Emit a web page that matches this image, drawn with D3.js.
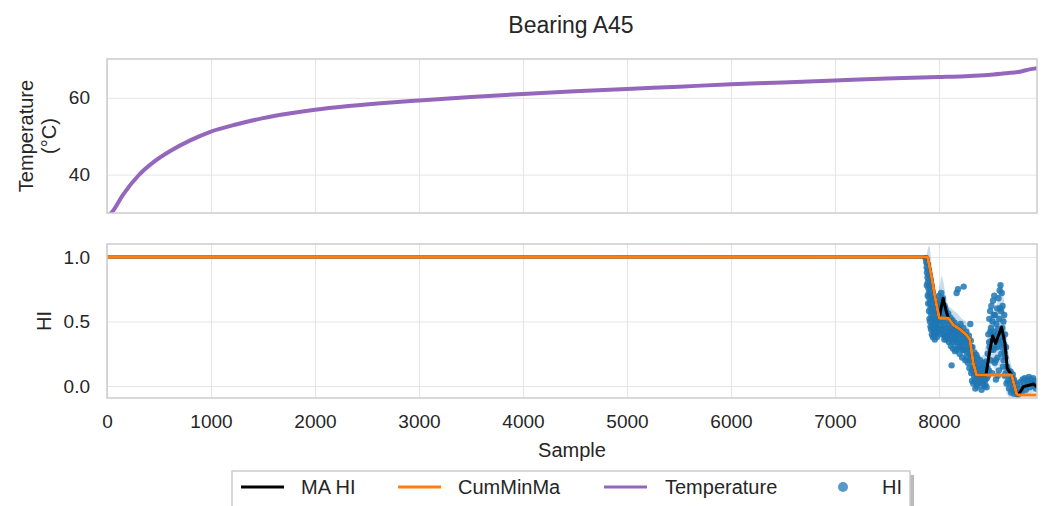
<!DOCTYPE html>
<html>
<head>
<meta charset="utf-8">
<script src="https://cdn.jsdelivr.net/npm/d3@7"></script>
<style>
  body { margin:0; background:#fff; }
  svg text { font-family: "Liberation Sans", Arial, sans-serif; fill:#262626; }
</style>
</head>
<body>
<svg id="chart" width="1048" height="506"></svg>
<script>
//x range of the samples
const sampleMax = 8943
const xTicks = [0,1000,2000,3000,4000,5000,6000,7000,8000]

//temperature (top)
const tempSample = [0,50,150,300,450,600,800,1000,1250,1500,1750,2000,2300,2600,3000,3500,4000,4500,5000,5500,6000,6500,7000,7500,8000,8300,8500,8650,8780,8870,8943]
const tempValue = [29.0,30.3,34.6,39.7,43.3,46.0,48.9,51.2,53.1,54.7,55.9,56.9,57.8,58.5,59.3,60.2,61.0,61.7,62.3,62.9,63.5,64.0,64.5,65.0,65.4,65.7,66.0,66.4,66.8,67.4,67.7]
const tempTicks = [40,60]

//moving average HI
const maSample = [0,7890,7929,7962,8003,8020,8041,8067,8090,8138,8202,8266,8298,8330,8362,8452,8490,8516,8545,8602,8635,8657,8699,8747,8760,8779,8811,8875,8907,8943]
const maValue = [1,1,0.847,0.69,0.525,0.60,0.68,0.59,0.525,0.473,0.44,0.395,0.357,0.176,0.085,0.085,0.28,0.388,0.33,0.455,0.33,0.137,0.085,-0.06,-0.07,-0.05,-0.005,0.008,0.015,-0.005]

//cumulative min of MA
const cumSample = [0,7890,7929,7962,8003,8090,8138,8202,8266,8298,8330,8362,8699,8747,8760,8943]
const cumValue = [1,1,0.847,0.69,0.525,0.525,0.473,0.44,0.395,0.357,0.176,0.085,0.085,-0.06,-0.07,-0.07]

//spread band around MA
const bandSample = [0,7880,7895,7910,7925,7945,7965,7985,8005,8025,8045,8065,8090,8120,8150,8180,8220,8260,8290,8320,8350,8390,8430,8465,8490,8515,8540,8565,8590,8610,8630,8650,8675,8710,8750,8800,8850,8900,8943]
const bandHigh = [1.005,1.01,1.07,1.09,0.98,0.86,0.74,0.70,0.77,0.86,0.80,0.70,0.62,0.60,0.58,0.56,0.52,0.50,0.44,0.30,0.20,0.22,0.24,0.36,0.52,0.60,0.54,0.66,0.80,0.78,0.62,0.40,0.22,0.12,0.05,0.06,0.08,0.07,0.05]
const bandLow = [0.995,0.99,0.90,0.75,0.62,0.50,0.42,0.38,0.40,0.44,0.46,0.40,0.36,0.33,0.30,0.28,0.24,0.20,0.14,0.03,-0.04,-0.03,-0.02,0.05,0.14,0.18,0.12,0.16,0.14,0.10,0.02,-0.06,-0.09,-0.1,-0.1,-0.08,-0.06,-0.05,-0.05]

//raw HI points [sample, value]
const hiPoints = [
  [7872,0.99],[7878,0.96],[7882,0.92],[7885,0.88],[7888,0.95],[7890,0.84],[7893,0.80],[7896,0.90],[7898,0.76],[7901,0.86],
  [7903,0.72],[7906,0.82],[7908,0.68],[7911,0.78],[7913,0.64],[7916,0.74],[7918,0.60],[7921,0.70],[7923,0.56],[7926,0.66],
  [7929,0.52],[7931,0.62],[7934,0.48],[7936,0.58],[7939,0.45],[7941,0.67],[7944,0.54],[7947,0.42],[7950,0.60],[7953,0.50],
  [7956,0.39],[7959,0.57],[7962,0.46],[7965,0.63],[7968,0.52],[7971,0.42],[7975,0.58],[7978,0.49],[7982,0.66],[7986,0.55],
  [7990,0.45],[7994,0.61],[7998,0.51],[8002,0.70],[8006,0.57],
  [7884,0.78],[7892,0.70],[7897,0.64],[7904,0.58],[7909,0.52],[7914,0.50],[7919,0.46],[7924,0.44],[7927,0.77],[7932,0.40],
  [7937,0.70],[7942,0.38],[7948,0.66],[7954,0.44],[7960,0.36],[7966,0.40],[7973,0.48],[7980,0.38],[7988,0.62],[7996,0.42],
  [8010,0.47],[8014,0.64],[8018,0.54],[8022,0.72],[8026,0.44],[8030,0.60],[8034,0.50],[8038,0.68],[8042,0.40],[8046,0.56],
  [8050,0.47],[8054,0.62],[8058,0.38],[8062,0.53],[8066,0.45],[8070,0.58],[8075,0.36],[8080,0.50],[8085,0.42],[8090,0.56],
  [8095,0.34],[8100,0.48],[8105,0.40],[8110,0.53],[8115,0.31],[8120,0.45],[8122,0.16],[8126,0.38],[8130,0.51],[8135,0.29],
  [8140,0.43],[8145,0.36],[8150,0.49],[8155,0.27],[8160,0.41],[8165,0.34],[8170,0.72],[8175,0.46],[8180,0.30],[8183,0.75],
  [8188,0.39],[8193,0.44],[8198,0.25],[8203,0.37],[8208,0.48],[8213,0.31],[8218,0.40],[8223,0.22],[8228,0.35],[8233,0.45],
  [8238,0.77],[8243,0.28],[8248,0.38],[8253,0.20],[8258,0.33],[8263,0.42],[8268,0.26],[8273,0.36],[8278,0.18],[8283,0.30],
  [8288,0.39],[8293,0.14],[8298,0.25],
  [8012,0.52],[8020,0.40],[8028,0.66],[8036,0.44],[8044,0.52],[8052,0.36],[8060,0.60],[8068,0.40],[8078,0.54],[8088,0.38],
  [8098,0.44],[8108,0.36],[8118,0.50],[8128,0.42],[8138,0.34],[8148,0.44],[8158,0.38],[8168,0.28],[8178,0.40],[8190,0.34],
  [8200,0.30],[8210,0.42],[8220,0.34],[8230,0.28],[8240,0.40],[8250,0.30],[8260,0.36],[8270,0.22],[8280,0.34],[8290,0.28],
  [8302,0.48],[8306,0.35],[8310,0.10],[8314,0.22],[8318,0.04],[8322,0.30],[8326,0.15],[8330,0.02],[8334,0.20],[8338,0.08],
  [8342,0.26],[8346,0.12],[8350,-0.02],[8354,0.18],[8358,0.06],[8362,0.14],[8366,0.00],[8370,0.22],[8375,0.09],[8380,0.16],
  [8385,0.03],[8390,0.12],[8395,0.20],[8400,0.05],[8405,0.14],[8410,-0.03],[8415,0.10],[8420,0.18],[8425,0.04],[8430,0.13],
  [8435,0.07],[8440,0.16],[8445,0.01],[8450,0.11],[8455,0.19],[8460,0.06],[8465,0.14],
  [8304,0.20],[8312,0.30],[8320,0.12],[8328,0.24],[8336,0.12],[8344,0.04],[8352,0.10],[8360,0.24],[8368,0.10],[8378,0.02],
  [8388,0.08],[8398,0.12],[8408,0.06],[8418,0.02],[8428,0.08],[8438,0.00],[8448,0.05],[8458,-0.01],
  [8470,0.25],[8475,0.40],[8480,0.12],[8484,0.52],[8488,0.30],[8492,0.58],[8496,0.20],[8500,0.45],[8504,0.62],[8508,0.35],
  [8512,0.10],[8516,0.50],[8520,0.66],[8524,0.28],[8528,0.42],[8532,0.70],[8536,0.18],[8540,0.55],[8544,0.38],[8548,0.05],
  [8552,0.48],[8556,0.30],[8560,0.60],[8564,0.22],[8568,0.44],[8572,0.68],[8576,0.12],[8580,0.52],[8584,0.74],[8588,0.35],
  [8592,0.78],[8596,0.58],[8600,0.25],[8604,0.72],[8608,0.45],[8612,0.62],[8616,0.15],[8620,0.50],[8624,0.32],[8628,0.55],
  [8632,0.08],[8636,0.40],[8640,0.22],[8645,0.30],[8650,0.02],[8655,0.15],
  [8472,0.08],[8482,0.34],[8494,0.42],[8502,0.28],[8514,0.40],[8526,0.55],[8534,0.30],[8546,0.20],[8558,0.40],[8566,0.08],
  [8578,0.34],[8590,0.60],[8598,0.42],[8606,0.30],[8614,0.38],[8622,0.20],[8630,0.26],[8642,0.10],
  [8660,0.10],[8665,0.04],[8670,0.12],[8675,-0.02],[8680,0.08],[8685,0.02],[8690,0.11],[8695,-0.05],[8700,0.06],[8705,-0.03],
  [8710,0.09],[8715,0.00],[8720,0.05],[8725,-0.06],[8730,0.03],[8740,-0.04],[8750,0.01],[8760,-0.07],
  [8775,-0.02],[8785,0.03],[8795,-0.05],[8805,0.05],[8815,0.00],[8825,0.06],[8835,-0.03],[8845,0.04],[8855,0.02],[8865,0.07],
  [8875,-0.01],[8885,0.05],[8895,0.03],[8905,0.06],[8915,0.00],[8925,0.04],[8935,-0.02],[8940,0.03]
]
const hiTicks = [0,0.5,1]

//legend entries
const legendNames = ["MA HI","CumMinMa","Temperature","HI"]
const legendColors = ["#000000","#ff7f0e","#9467bd","#1f77b4"]

const svg = d3.select("#chart")
const L = 107, R = 1037
const top1 = 59, bot1 = 213, top2 = 244, bot2 = 398

const x = d3.scaleLinear().domain([0,sampleMax]).range([L,R])
const yT = d3.scaleLinear().domain([30,70.1]).range([bot1,top1])
const yH = d3.scaleLinear().domain([-0.093,1.1]).range([bot2,top2])

//panel grid + ticks
const panel = (yScale, ticks, fmt, top, bot, id, showX) => {
  let g = svg.append("g")
  g.append("g").attr("transform",`translate(0,${bot})`)
    .call(d3.axisBottom(x).tickValues(xTicks).tickSize(-(bot-top)).tickFormat(showX ? d3.format("d") : ""))
    .call(a => a.select(".domain").remove())
    .call(a => a.selectAll("line").attr("stroke","#e5e5e5").attr("stroke-width",1))
    .call(a => a.selectAll("text").attr("dy",null).attr("y",30).style("font-size","19px").attr("fill","#262626"))
  g.append("g").attr("transform",`translate(${L},0)`)
    .call(d3.axisLeft(yScale).tickValues(ticks).tickSize(-(R-L)).tickFormat(fmt))
    .call(a => a.select(".domain").remove())
    .call(a => a.selectAll("line").attr("stroke","#e5e5e5").attr("stroke-width",1))
    .call(a => a.selectAll("text").attr("x",-17).style("font-size","19px").attr("fill","#262626"))
  svg.append("clipPath").attr("id",id).append("rect")
    .attr("x",L).attr("y",top).attr("width",R-L).attr("height",bot-top)
  return g
}
const frame = (top, bot) => {
  svg.append("rect").attr("x",L).attr("y",top).attr("width",R-L).attr("height",bot-top)
    .attr("fill","none").attr("stroke","#cccccc").attr("stroke-width",1.5)
}

panel(yT, tempTicks, d3.format("d"), top1, bot1, "c1", false)
panel(yH, hiTicks, d3.format(".1f"), top2, bot2, "c2", true)

//temperature
let tData = tempSample.map((s,i)=> [s, tempValue[i]])
svg.append("path").datum(tData).attr("clip-path","url(#c1)")
  .attr("d", d3.line().x(d=>x(d[0])).y(d=>yT(d[1])).curve(d3.curveMonotoneX))
  .attr("fill","none").attr("stroke","#9467bd").attr("stroke-width",4)
frame(top1, bot1)

//HI panel
let g2 = svg.append("g").attr("clip-path","url(#c2)")
let bData = bandSample.map((s,i)=> [s, bandLow[i], bandHigh[i]])
g2.append("path").datum(bData)
  .attr("d", d3.area().x(d=>x(d[0])).y0(d=>yH(d[1])).y1(d=>yH(d[2])))
  .attr("fill","#1f77b4").attr("fill-opacity",0.25)
g2.selectAll("circle").data(hiPoints).enter().append("circle")
  .attr("cx", d=> x(d[0])).attr("cy", d=> yH(d[1])).attr("r",3.2)
  .attr("fill","#1f77b4").attr("fill-opacity",0.85)
let mData = maSample.map((s,i)=> [s, maValue[i]])
g2.append("path").datum(mData)
  .attr("d", d3.line().x(d=>x(d[0])).y(d=>yH(d[1])))
  .attr("fill","none").attr("stroke","#000").attr("stroke-width",3).attr("stroke-linejoin","round")
let cData = cumSample.map((s,i)=> [s, cumValue[i]])
g2.append("path").datum(cData)
  .attr("d", d3.line().x(d=>x(d[0])).y(d=>yH(d[1])))
  .attr("fill","none").attr("stroke","#ff7f0e").attr("stroke-width",3).attr("stroke-linejoin","round")
frame(top2, bot2)

//labels
svg.append("text").attr("x",571).attr("y",33).attr("text-anchor","middle").style("font-size","23px").text("Bearing A45")
svg.append("text").attr("x",572).attr("y",457).attr("text-anchor","middle").style("font-size","20px").text("Sample")
let tl = svg.append("text").attr("transform","translate(0,136) rotate(-90)").attr("text-anchor","middle").style("font-size","20px")
tl.append("tspan").attr("x",0).attr("y",33).text("Temperature")
tl.append("tspan").attr("x",0).attr("y",56).text("(°C)")
svg.append("text").attr("transform","translate(51,321) rotate(-90)").attr("text-anchor","middle").style("font-size","20px").text("HI")

//legend
let lg = svg.append("g")
lg.append("rect").attr("x",236).attr("y",475).attr("width",678).attr("height",60).attr("fill","#8c8c8c").attr("opacity",0.6)
lg.append("rect").attr("x",232).attr("y",471).attr("width",678).attr("height",60).attr("fill","#fff").attr("stroke","#cccccc").attr("stroke-width",1.5)
const handleX = [241,398,604,821]
const textX = [301,458,665,882]
legendNames.forEach((n,i)=>{
  if(i<3){
    lg.append("line").attr("x1",handleX[i]).attr("x2",handleX[i]+43).attr("y1",487).attr("y2",487)
      .attr("stroke",legendColors[i]).attr("stroke-width",3)
  } else {
    lg.append("circle").attr("cx",843).attr("cy",487).attr("r",5).attr("fill",legendColors[i]).attr("fill-opacity",0.75)
  }
  lg.append("text").attr("x",textX[i]).attr("y",494).style("font-size","20px").text(n)
})
</script>
</body>
</html>
